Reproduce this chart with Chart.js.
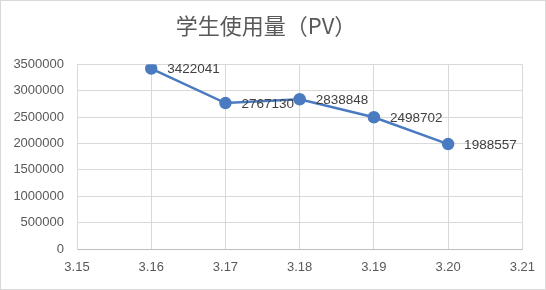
<!DOCTYPE html>
<html>
<head>
<meta charset="utf-8">
<script src="https://cdn.jsdelivr.net/npm/chart.js@4"></script>
<style>
html,body{margin:0;padding:0;background:#fff;}
#wrap{width:546px;height:290px;position:relative;}
</style>
</head>
<body>
<div id="wrap"><canvas id="c" width="546" height="290"></canvas></div>
<script>
const chartTitle = "学生使用量（PV）";
const xValues = [3.16, 3.17, 3.18, 3.19, 3.20];
const pvValues = [3422041, 2767130, 2838848, 2498702, 1988557];
const xTickMin = 3.15, xTickMax = 3.21, xTickStep = 0.01;
const yTickMin = 0, yTickMax = 3500000, yTickStep = 500000;

const points = xValues.map((x, i) => ({x: x, y: pvValues[i]}));

const borderPlugin = {
  id: 'outerBorder',
  beforeDraw(chart) {
    const ctx = chart.ctx;
    ctx.save();
    ctx.fillStyle = '#ffffff';
    ctx.fillRect(0, 0, chart.width, chart.height);
    ctx.strokeStyle = '#d9d9d9';
    ctx.lineWidth = 1;
    ctx.strokeRect(0.5, 0.5, chart.width - 1, chart.height - 1);
    ctx.restore();
  }
};

const labelPlugin = {
  id: 'pointLabels',
  afterDatasetsDraw(chart) {
    const ctx = chart.ctx;
    const meta = chart.getDatasetMeta(0);
    ctx.save();
    ctx.font = '13.5px "Liberation Sans", Arial, sans-serif';
    ctx.fillStyle = '#404040';
    ctx.textAlign = 'left';
    ctx.textBaseline = 'middle';
    meta.data.forEach((el, i) => {
      ctx.fillText(String(pvValues[i]), el.x + 16, el.y + 1);
    });
    ctx.restore();
  }
};

new Chart(document.getElementById('c'), {
  type: 'line',
  data: {
    datasets: [{
      data: points,
      borderColor: '#4a7bc0',
      backgroundColor: '#4a7bc0',
      borderWidth: 2.5,
      pointRadius: 5,
      pointHoverRadius: 5,
      pointBackgroundColor: '#4a7bc0',
      pointBorderColor: '#4a7bc0',
      tension: 0,
      fill: false
    }]
  },
  options: {
    responsive: false,
    animation: false,
    devicePixelRatio: 1,
    layout: {padding: {left: 9, right: 23, top: 0, bottom: 0}},
    plugins: {
      legend: {display: false},
      tooltip: {enabled: false},
      title: {
        display: true,
        text: chartTitle,
        color: '#595959',
        font: {family: '"Noto Sans CJK SC", sans-serif', size: 22, weight: 'normal'},
        padding: {top: 12, bottom: 26}
      }
    },
    scales: {
      x: {
        type: 'linear',
        min: xTickMin,
        max: xTickMax,
        afterBuildTicks(scale) {
          const t = [];
          for (let v = xTickMin; v <= xTickMax + 1e-9; v += xTickStep) t.push({value: Math.round(v * 100) / 100});
          scale.ticks = t;
        },
        afterFit(scale) { scale.height = 41; },
        grid: {color: '#d9d9d9', drawTicks: false},
        border: {color: '#bfbfbf'},
        ticks: {
          padding: 11,
          color: '#595959',
          font: {family: '"Liberation Sans", Arial, sans-serif', size: 13},
          callback: v => Number(v).toFixed(2),
          maxRotation: 0
        }
      },
      y: {
        min: yTickMin,
        max: yTickMax,
        afterFit(scale) { scale.width = 68; },
        grid: {color: '#d9d9d9', drawTicks: false},
        border: {color: '#d9d9d9'},
        ticks: {
          stepSize: yTickStep,
          padding: 13,
          color: '#595959',
          font: {family: '"Liberation Sans", Arial, sans-serif', size: 13},
          callback: v => String(v)
        }
      }
    }
  },
  plugins: [borderPlugin, labelPlugin]
});
</script>
</body>
</html>
